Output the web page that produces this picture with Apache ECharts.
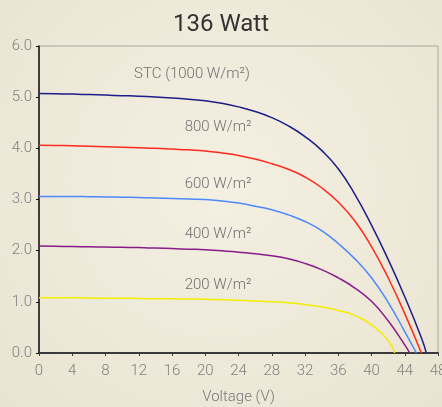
<!DOCTYPE html>
<html>
<head>
<meta charset="utf-8">
<script src="https://cdn.jsdelivr.net/npm/echarts@6/dist/echarts.min.js"></script>
<style>html,body{margin:0;padding:0;}#c{width:442px;height:407px;}</style>
</head>
<body>
<div id="c"></div>
<script>
const titleText = '136 Watt';
const xTicks = [0, 48, 4];
const yTicks = [0, 6, 1];

// sampled voltages (V), shared by all curves
const volts = [0,2,4,6,8,10,12,14,16,18,20,22,24,26,28,30,32,34,36,38,40,42,44,46];

// currents (A) at those voltages, then each curve ends at its open-circuit voltage
const stcAmps  = [5.07,5.065,5.06,5.05,5.04,5.03,5.02,5.005,4.985,4.96,4.93,4.88,4.81,4.72,4.60,4.44,4.23,3.96,3.60,3.10,2.50,1.83,1.10,0.30];
const w800Amps = [4.06,4.055,4.05,4.04,4.03,4.02,4.01,4.00,3.985,3.97,3.95,3.91,3.86,3.79,3.70,3.59,3.44,3.23,2.95,2.58,2.08,1.47,0.77];
const w600Amps = [3.06,3.06,3.06,3.055,3.05,3.045,3.04,3.03,3.02,3.01,3.00,2.97,2.93,2.87,2.80,2.70,2.57,2.39,2.14,1.84,1.47,0.99,0.42];
const w400Amps = [2.09,2.085,2.08,2.075,2.07,2.065,2.06,2.05,2.04,2.03,2.02,2.00,1.97,1.94,1.90,1.84,1.75,1.63,1.47,1.27,1.01,0.63,0.16];
const w200Amps = [1.08,1.08,1.08,1.075,1.07,1.07,1.065,1.06,1.06,1.055,1.05,1.04,1.03,1.015,1.00,0.98,0.95,0.90,0.83,0.73,0.55,0.24];
const openCircuitVolts = [46.6, 46.0, 45.4, 44.6, 42.8];

const curveLabels = ['STC (1000 W/m²)', '800 W/m²', '600 W/m²', '400 W/m²', '200 W/m²'];
const xName = 'Voltage (V)';

function curve(amps, voc) {
  const d = amps.map((a, i) => [volts[i], a]);
  d.push([voc, 0]);
  return d;
}

const FONT = 'Roboto, "Liberation Sans", sans-serif';
const chart = echarts.init(document.getElementById('c'));

const ampsList = [stcAmps, w800Amps, w600Amps, w400Amps, w200Amps];
const colors = ['#1c1c8a', '#ff2a1f', '#4d88ff', '#8a1a8c', '#f2ee00'];
const labelPos = [[192, 74], [218, 127], [218, 184], [218, 234], [218, 285]];

chart.setOption({
  backgroundColor: {
    type: 'radial', x: 0.5, y: 0.45, r: 0.8,
    colorStops: [{offset: 0, color: '#f4f0e2'}, {offset: 1, color: '#e9e3d1'}]
  },
  animation: false,
  title: {
    text: titleText, left: 'center', top: 8,
    textStyle: {fontFamily: FONT, fontSize: 24, fontWeight: 400, color: '#333'}
  },
  grid: {left: 39, right: 4, top: 46, bottom: 54, outerBoundsMode: 'none', containLabel: false,
    show: true, borderColor: '#a9a69c', borderWidth: 1, backgroundColor: 'transparent'},
  xAxis: {
    type: 'value', min: xTicks[0], max: xTicks[1], interval: xTicks[2],
    name: xName, nameLocation: 'middle', nameGap: 37,
    nameTextStyle: {fontFamily: FONT, fontSize: 15, fontWeight: 300, color: '#777'},
    axisLine: {show: true, lineStyle: {color: '#3a3a3a', width: 2}},
    axisTick: {show: true, length: 3, lineStyle: {color: '#3a3a3a'}},
    axisLabel: {fontFamily: FONT, fontSize: 15, fontWeight: 300, color: '#808080', margin: 11},
    splitLine: {show: false}
  },
  yAxis: {
    type: 'value', min: yTicks[0], max: yTicks[1], interval: yTicks[2],
    axisLine: {show: true, lineStyle: {color: '#111', width: 1.5}},
    axisTick: {show: true, length: 3, lineStyle: {color: '#111'}},
    axisLabel: {fontFamily: FONT, fontSize: 15, fontWeight: 300, color: '#808080', margin: 7,
      formatter: v => v.toFixed(1)},
    splitLine: {show: false}
  },
  series: ampsList.map((a, i) => ({
    type: 'line', data: curve(a, openCircuitVolts[i]), showSymbol: false, symbol: 'none',
    smooth: 0.5,
    lineStyle: {color: colors[i], width: 1.5}
  })),
  graphic: curveLabels.map((t, i) => ({
    type: 'text', x: labelPos[i][0], y: labelPos[i][1],
    style: {text: t, fill: '#707070', font: '300 15px ' + FONT, align: 'center', verticalAlign: 'middle'}
  }))
});
</script>
</body>
</html>
